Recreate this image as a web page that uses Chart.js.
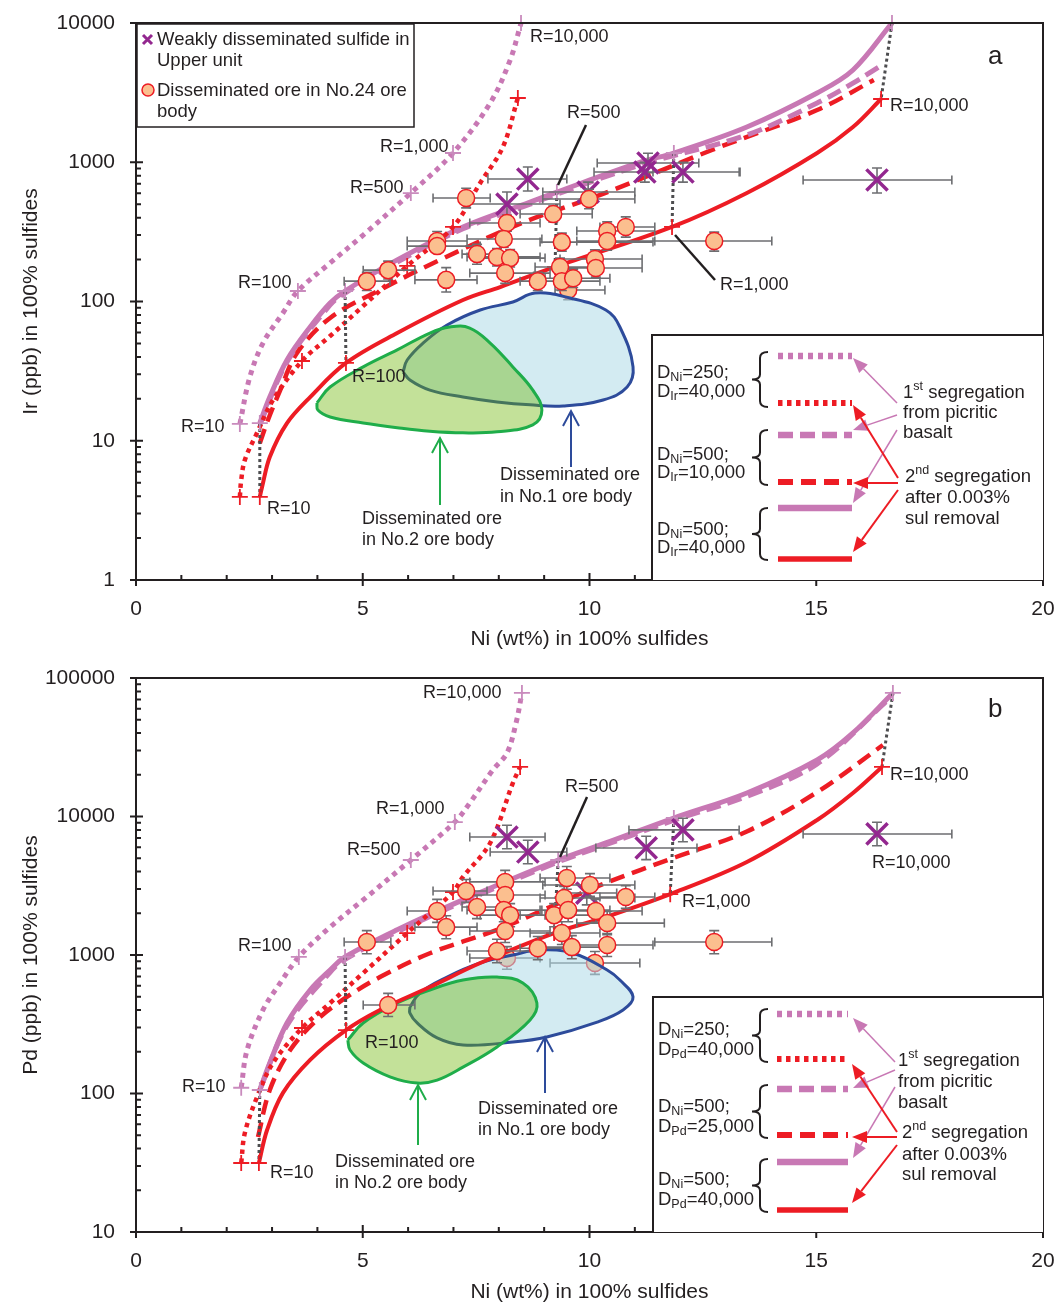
<!DOCTYPE html>
<html>
<head>
<meta charset="utf-8">
<script src="https://cdn.jsdelivr.net/npm/chart.js@4.4.1/dist/chart.umd.min.js"></script>
<style>
html, body { margin: 0; padding: 0; background: #fff; }
#wrap { position: relative; width: 1058px; height: 1305px; }
canvas { position: absolute; left: 0; }
#chartA { top: 0; }
#chartB { top: 652px; }
</style>
</head>
<body>
<div id="wrap">
  <canvas id="chartA" width="1058" height="652"></canvas>
  <canvas id="chartB" width="1058" height="653"></canvas>
</div>
<script>
// ---- axes ----
const niTicks = [0, 5, 10, 15, 20];
const irTicks = [1, 10, 100, 1000, 10000];
const pdTicks = [10, 100, 1000, 10000, 100000];

// ---- panel a: Ir vs Ni ----
const irPinkDotNi = [2.29, 2.51, 2.80, 3.24, 3.57, 4.28, 5.01, 6.06, 6.99, 7.81, 8.25, 8.49];
const irPinkDotIr = [13.2, 28.7, 50.3, 82.7, 119, 189, 300, 601, 1165, 2663, 5420, 10000];
const irRedDotNi = [2.29, 2.32, 2.40, 2.67, 3.02, 3.66, 4.28, 5.01, 5.98, 6.99, 7.59, 8.09, 8.42];
const irRedDotIr = [3.95, 5.22, 7.28, 11.4, 19.6, 37.4, 56.5, 92.9, 180, 343, 710, 1288, 2893];
const irPinkDashNi = [2.73, 3.33, 4.28, 4.61, 5.76, 7.21, 8.69, 9.28, 11.14, 13.47, 15.02, 15.81, 16.38];
const irPinkDashIr = [13.0, 36.8, 94.4, 115, 192, 333, 500, 590, 960, 1570, 2663, 3700, 4830];
const irRedDashNi = [2.73, 2.91, 3.18, 3.55, 4.28, 5.38, 6.70, 8.51, 10.34, 12.70, 15.02, 16.27];
const irRedDashIr = [9.6, 14.1, 23.1, 42.7, 76.2, 121, 199, 366, 601, 1225, 2372, 3896];
const irPinkSolidNi = [2.73, 2.95, 3.33, 3.84, 4.28, 4.61, 5.76, 7.21, 8.69, 9.28, 11.14, 11.86, 13.47, 15.02, 15.81, 16.67];
const irPinkSolidIr = [13.4, 20.6, 38, 65.6, 97.5, 119, 199, 343, 518, 611, 1005, 1165, 1791, 3142, 4595, 10000];
const irRedSolidNi = [2.73, 2.78, 2.95, 3.33, 3.84, 4.63, 5.76, 7.21, 8.03, 9.24, 11.82, 13.47, 15.02, 15.81, 16.43];
const irRedSolidIr = [3.95, 4.65, 7.64, 13.4, 20.6, 36.2, 59.4, 102.5, 127, 177, 343, 601, 1165, 1791, 2846];

// R = 10, 100, 500, 1000, 10000 marks
const irPinkDotMarkNi = [2.29, 3.57, 6.06, 6.99, 8.49];
const irPinkDotMarkIr = [13.2, 119, 601, 1165, 10000];
const irRedDotMarkNi = [2.29, 3.66, 5.98, 6.99, 8.42];
const irRedDotMarkIr = [3.95, 37.4, 180, 343, 2893];
const irPinkSolidMarkNi = [2.73, 4.61, 9.28, 11.86, 16.67];
const irPinkSolidMarkIr = [13.4, 119, 611, 1165, 10000];
const irRedSolidMarkNi = [2.73, 4.63, 9.24, 11.82, 16.43];
const irRedSolidMarkIr = [3.95, 36.2, 177, 343, 2846];

const irNo1Ni = [5.89, 5.98, 6.33, 6.86, 7.59, 8.31, 8.80, 9.57, 10.36, 10.67, 10.96, 10.83, 10.30, 9.42, 8.69, 7.96, 7.21, 6.48, 6.04];
const irNo1Ir = [31.2, 38, 50.3, 67.8, 86.9, 99.2, 115, 106, 86.9, 65.6, 33.9, 24.3, 19.6, 17.8, 18.1, 19.0, 20.6, 23.1, 27.3];
const irNo2Ni = [3.99, 4.28, 5.01, 5.76, 6.48, 6.92, 7.36, 7.81, 8.31, 8.75, 8.95, 8.75, 7.96, 7.21, 6.48, 5.76, 5.01, 4.28, 4.01];
const irNo2Ir = [18.7, 24.3, 33.9, 44.9, 59.4, 65.6, 64.5, 50.3, 33.9, 23.1, 16.6, 13.0, 11.6, 11.4, 11.7, 12.4, 13.4, 14.8, 16.6];

const irOreNi = [7.28, 6.64, 6.64, 5.56, 5.09, 6.84, 7.52, 8.18, 8.11, 7.96, 8.25, 8.14, 8.86, 9.20, 9.99, 10.39, 10.80, 10.39, 9.39, 12.75, 10.12, 10.14, 9.35, 9.39, 9.64];
const irOreIr = [554, 272, 250, 168, 140, 143, 219, 366, 281, 209, 205, 160, 140, 425, 545, 321, 343, 272, 267, 272, 202, 174, 177, 140, 147];
const irOreNiLo = [6.55, 5.98, 5.98, 5.01, 4.59, 6.15, 7.19, 7.36, 7.30, 7.30, 7.59, 7.36, 8.47, 8.47, 8.97, 9.72, 10.23, 9.72, 8.91, 11.44, 9.35, 9.35, 8.80, 8.69, 9.02];
const irOreNiHi = [7.81, 7.30, 7.59, 6.15, 5.60, 7.52, 8.25, 8.91, 8.95, 8.91, 9.02, 9.13, 9.70, 10.06, 11.00, 11.44, 11.44, 11.44, 11.40, 14.02, 11.16, 11.16, 10.23, 10.23, 10.45];
const irOreIrLo = [470, 232, 232, 145, 120, 117, 185, 320, 245, 180, 177, 135, 120, 372, 463, 276, 290, 234, 230, 230, 174, 150, 152, 120, 126];
const irOreIrHi = [650, 318, 272, 195, 162, 175, 257, 418, 320, 240, 236, 188, 162, 485, 640, 373, 405, 316, 310, 315, 235, 202, 205, 162, 170];
const irHidNi = [9.53];
const irHidIr = [121];
const irHidNiLo = [9.24];
const irHidNiHi = [10.34];
const irHidIrLo = [103];
const irHidIrHi = [142];

const irWeakNi = [8.18, 8.64, 9.97, 11.29, 11.22, 12.06, 16.34];
const irWeakIr = [501, 758, 611, 988, 851, 851, 746];
const irWeakNiLo = [7.36, 7.76, 8.97, 10.17, 10.10, 11.40, 14.71];
const irWeakNiHi = [9.35, 9.50, 11.00, 12.41, 13.32, 13.30, 17.99];
const irWeakIrLo = [411, 622, 520, 840, 720, 720, 601];
const irWeakIrHi = [611, 925, 720, 1160, 1000, 1000, 910];

// ---- panel b: Pd vs Ni ----
const pdPinkDotNi = [2.32, 2.45, 2.80, 3.18, 3.59, 4.28, 5.01, 6.06, 7.03, 7.36, 7.87, 8.18, 8.38, 8.51];
const pdPinkDotPd = [110, 206, 401, 628, 968, 1590, 2500, 4850, 9120, 12510, 21700, 28700, 47300, 78000];
const pdRedDotNi = [2.32, 2.40, 2.67, 3.02, 3.66, 4.28, 5.01, 5.98, 6.48, 6.99, 7.21, 7.81, 8.31, 8.47];
const pdRedDotPd = [31.5, 51.9, 94.4, 166, 297, 450, 741, 1440, 2010, 2850, 3660, 6440, 17450, 22800];
const pdPinkDashNi = [2.73, 3.33, 4.28, 4.61, 5.76, 7.21, 9.31, 10.36, 11.86, 13.47, 15.02, 16.58];
const pdPinkDashPd = [106, 310, 750, 930, 1470, 2420, 4700, 6250, 9400, 14000, 24000, 69300];
const pdRedDashNi = [2.69, 2.95, 3.40, 3.99, 4.65, 5.38, 6.48, 7.96, 9.13, 10.36, 11.91, 13.47, 15.02, 16.47];
const pdRedDashPd = [48.5, 106, 206, 340, 498, 693, 1030, 1520, 2220, 3310, 5100, 7800, 15000, 32800];
const pdPinkSolidNi = [2.73, 2.95, 3.33, 3.84, 4.28, 4.61, 5.76, 7.21, 9.31, 10.36, 11.86, 13.47, 15.02, 15.81, 16.69];
const pdPinkSolidPd = [106, 166, 323, 559, 779, 968, 1520, 2500, 4850, 6440, 9750, 14790, 25600, 40100, 78000];
const pdRedSolidNi = [2.71, 2.89, 3.24, 3.84, 4.63, 5.38, 6.48, 7.59, 9.22, 10.36, 11.78, 13.47, 15.02, 15.81, 16.45];
const pdRedSolidPd = [31.5, 54.5, 101, 175, 287, 401, 587, 875, 1440, 1880, 2750, 4690, 9440, 14790, 22800];

const pdPinkDotMarkNi = [2.32, 3.59, 6.06, 7.03, 8.51];
const pdPinkDotMarkPd = [110, 968, 4850, 9120, 78000];
const pdRedDotMarkNi = [2.32, 3.66, 5.98, 6.99, 8.47];
const pdRedDotMarkPd = [31.5, 297, 1440, 2850, 22800];
const pdPinkSolidMarkNi = [2.73, 4.61, 9.31, 11.86, 16.69];
const pdPinkSolidMarkPd = [106, 968, 4850, 9750, 78000];
const pdRedSolidMarkNi = [2.71, 4.63, 9.22, 11.78, 16.45];
const pdRedSolidMarkPd = [31.5, 287, 1440, 2750, 22800];

const pdNo1Ni = [6.04, 6.26, 6.86, 7.59, 8.31, 8.91, 9.64, 10.39, 10.67, 10.96, 10.74, 10.17, 9.06, 8.31, 7.21, 6.64, 6.20, 6.04];
const pdNo1Pd = [421, 532, 693, 875, 1000, 1090, 1030, 779, 660, 498, 401, 328, 256, 235, 224, 252, 323, 381];
const pdNo2Ni = [4.67, 5.01, 5.76, 6.48, 7.21, 7.96, 8.53, 8.84, 8.69, 7.96, 7.21, 6.64, 6.20, 5.60, 5.01, 4.72];
const pdNo2Pd = [243, 323, 450, 559, 660, 693, 628, 450, 340, 217, 155, 125, 119, 132, 166, 206];

const pdOreNi = [5.09, 6.64, 6.84, 7.28, 7.52, 8.14, 8.14, 8.11, 8.25, 8.14, 7.96, 8.86, 9.22, 5.56, 9.50, 10.01, 9.44, 10.80, 9.53, 10.14, 10.39, 9.39, 9.61, 10.39, 12.75];
const pdOrePd = [1240, 2080, 1590, 2900, 2220, 3370, 2710, 2110, 1940, 1490, 1070, 1120, 1940, 436, 3600, 3200, 2580, 2620, 2110, 2080, 1700, 1440, 1140, 1180, 1240];
const pdOreNiLo = [4.59, 5.98, 6.15, 6.55, 7.19, 7.36, 7.36, 7.30, 7.59, 7.36, 7.30, 8.47, 8.47, 5.01, 8.91, 8.97, 8.91, 10.23, 8.91, 9.35, 9.72, 8.69, 9.02, 9.72, 11.44];
const pdOreNiHi = [5.62, 6.81, 7.52, 7.74, 8.18, 9.02, 9.02, 8.95, 9.02, 9.13, 8.91, 9.70, 10.06, 6.15, 10.45, 11.00, 11.00, 11.44, 10.45, 11.16, 11.65, 10.23, 10.45, 11.40, 14.02];
const pdOrePdLo = [1020, 1720, 1310, 2400, 1830, 2790, 2240, 1740, 1600, 1230, 880, 925, 1600, 360, 2980, 2650, 2130, 2170, 1740, 1720, 1400, 1190, 940, 975, 1020];
const pdOrePdHi = [1500, 2520, 1920, 3510, 2690, 4080, 3280, 2550, 2350, 1800, 1300, 1360, 2350, 528, 4360, 3870, 3120, 3170, 2550, 2520, 2060, 1740, 1380, 1430, 1500];
const pdHidNi = [8.18, 10.12];
const pdHidPd = [951, 875];
const pdHidNiLo = [7.36, 9.13];
const pdHidNiHi = [8.91, 11.11];
const pdHidPdLo = [790, 725];
const pdHidPdHi = [1150, 1060];

const pdWeakNi = [9.94, 8.18, 8.64, 11.25, 12.06, 16.34];
const pdWeakPd = [2800, 7110, 5540, 5930, 8000, 7480];
const pdWeakNiLo = [9.40, 7.36, 7.81, 10.14, 10.87, 14.71];
const pdWeakNiHi = [10.60, 9.02, 9.50, 12.37, 13.30, 17.99];
const pdWeakPdLo = [2300, 5850, 4560, 4880, 6580, 6150];
const pdWeakPdHi = [3400, 8640, 6730, 7210, 9720, 9090];

// ---- styles ----
const FONT = '"Liberation Sans", Arial, sans-serif';
const INK = '#231f20';
const PINK = '#c878b4';
const PINK_MARK = '#c98bbd';
const RED = '#ed1c24';
const PURPLE = '#93278f';
const GRAY = '#6d6e71';
const BLUE = '#2d4b9b';
const GREEN = '#1fad4a';
const PEACH = '#fbbf8f';

const LINE = {
    pinkDot: { color: PINK, width: 5, dash: [5, 5] },
    redDot: { color: RED, width: 4.5, dash: [4.5, 4.5] },
    pinkDash: { color: PINK, width: 5, dash: [15, 7] },
    redDash: { color: RED, width: 4.5, dash: [15, 8] },
    pinkSolid: { color: PINK, width: 5, dash: [] },
    redSolid: { color: RED, width: 4, dash: [] },
    tie: { color: '#4d4d4f', width: 3, dash: [3, 3] }
};
const LEGEND_ORDER = ['pinkDot', 'redDot', 'pinkDash', 'redDash', 'pinkSolid', 'redSolid'];

function pts(xs, ys) {
    return xs.map((v, i) => ({ x: v, y: ys[i] }));
}

function curve(xs, ys, st, order, tension) {
    return {
        type: 'line', data: pts(xs, ys), borderColor: st.color, borderWidth: st.width,
        borderDash: st.dash, borderCapStyle: 'butt', pointRadius: 0, fill: false,
        tension: tension === undefined ? 0.35 : tension, order
    };
}

function region(xs, ys, stroke, fillColor, order) {
    const d = pts(xs, ys);
    d.push(d[0]);
    return {
        type: 'line', data: d, borderColor: stroke, borderWidth: 3, backgroundColor: fillColor,
        fill: 'shape', pointRadius: 0, tension: 0.4, order
    };
}

function ties(topX, topY, botX, botY) {
    return topX.map((_, i) => curve([topX[i], botX[i]], [topY[i], botY[i]], LINE.tie, 7, 0));
}

function marks(xs, ys, color) {
    return {
        type: 'scatter', data: pts(xs, ys), pointStyle: 'cross', pointRadius: 8,
        borderColor: color, pointBorderColor: color, pointBorderWidth: 1.8, order: 6, clip: false
    };
}

function ore(xs, ys, err, order) {
    return {
        type: 'scatter', data: pts(xs, ys), pointStyle: 'circle', pointRadius: 8.5,
        pointBackgroundColor: PEACH, pointBorderColor: RED, pointBorderWidth: 1.5,
        order, errorBars: err
    };
}

function weak(xs, ys, err) {
    return {
        type: 'scatter', data: pts(xs, ys), pointStyle: 'crossRot', pointRadius: 15,
        pointBorderColor: PURPLE, borderColor: PURPLE, pointBorderWidth: 3.5, order: 3, errorBars: err
    };
}

function panelDatasets(p) {
    return [
        ore(p.hid[0], p.hid[1], p.hidErr, 12),
        region(p.no1[0], p.no1[1], BLUE, 'rgba(175, 218, 232, 0.55)', 11),
        region(p.no2[0], p.no2[1], GREEN, 'rgba(105, 180, 0, 0.40)', 10),
        curve(p.pinkDot[0], p.pinkDot[1], LINE.pinkDot, 8),
        curve(p.redDot[0], p.redDot[1], LINE.redDot, 8),
        curve(p.pinkDash[0], p.pinkDash[1], LINE.pinkDash, 8),
        curve(p.redDash[0], p.redDash[1], LINE.redDash, 8),
        curve(p.pinkSolid[0], p.pinkSolid[1], LINE.pinkSolid, 8),
        curve(p.redSolid[0], p.redSolid[1], LINE.redSolid, 8),
        ...ties(p.pinkSolidMark[0], p.pinkSolidMark[1], p.redSolidMark[0], p.redSolidMark[1]),
        marks(p.pinkDotMark[0], p.pinkDotMark[1], PINK_MARK),
        marks(p.pinkSolidMark[0], p.pinkSolidMark[1], PINK_MARK),
        marks(p.redDotMark[0], p.redDotMark[1], RED),
        marks(p.redSolidMark[0], p.redSolidMark[1], RED),
        weak(p.weak[0], p.weak[1], p.weakErr),
        ore(p.ore[0], p.ore[1], p.oreErr, 2)
    ];
}

// ---- plugins ----
const errorBars = {
    id: 'errorBars',
    beforeDatasetDraw(chart, args) {
        const ds = chart.data.datasets[args.index];
        const e = ds.errorBars;
        if (!e) return;
        const { ctx, scales: { x, y } } = chart;
        ctx.save();
        ctx.strokeStyle = GRAY;
        ctx.lineWidth = 1.6;
        ctx.beginPath();
        ds.data.forEach((p, i) => {
            const px = x.getPixelForValue(p.x), py = y.getPixelForValue(p.y);
            const x0 = x.getPixelForValue(e.xLo[i]), x1 = x.getPixelForValue(e.xHi[i]);
            const y0 = y.getPixelForValue(e.yLo[i]), y1 = y.getPixelForValue(e.yHi[i]);
            ctx.moveTo(x0, py); ctx.lineTo(x1, py);
            ctx.moveTo(x0, py - 4.5); ctx.lineTo(x0, py + 4.5);
            ctx.moveTo(x1, py - 4.5); ctx.lineTo(x1, py + 4.5);
            ctx.moveTo(px, y0); ctx.lineTo(px, y1);
            ctx.moveTo(px - 5, y0); ctx.lineTo(px + 5, y0);
            ctx.moveTo(px - 5, y1); ctx.lineTo(px + 5, y1);
        });
        ctx.stroke();
        ctx.restore();
    }
};

const axesBox = {
    id: 'axesBox',
    afterDatasetsDraw(chart) {
        const { ctx, chartArea: a, scales: { x, y } } = chart;
        ctx.save();
        ctx.strokeStyle = INK;
        ctx.lineWidth = 2;
        ctx.strokeRect(a.left, a.top, a.right - a.left, a.bottom - a.top);
        ctx.beginPath();
        for (let v = niTicks[0]; v <= niTicks[niTicks.length - 1]; v++) {
            const px = x.getPixelForValue(v);
            const major = niTicks.includes(v);
            ctx.moveTo(px, a.bottom + (major ? 6 : 0));
            ctx.lineTo(px, a.bottom - (major ? 7 : 5));
        }
        const dec = y.ticks.map(t => t.value);
        dec.forEach((d, i) => {
            const py = y.getPixelForValue(d);
            ctx.moveTo(a.left - 6, py); ctx.lineTo(a.left + 7, py);
            if (i < dec.length - 1) {
                for (let m = 2; m <= 9; m++) {
                    const q = y.getPixelForValue(d * m);
                    ctx.moveTo(a.left, q); ctx.lineTo(a.left + 5, q);
                }
            }
        });
        ctx.stroke();
        ctx.restore();
    }
};

function txt(ctx, s, x, y, size, color, align) {
    ctx.font = size + 'px ' + FONT;
    ctx.fillStyle = color || INK;
    ctx.textAlign = align || 'left';
    ctx.textBaseline = 'middle';
    ctx.fillText(s, x, y);
    return ctx.measureText(s).width;
}

function richText(ctx, x, y, parts) {
    let cx = x;
    parts.forEach(([s, k]) => {
        const size = k === 'n' ? 18.5 : 12.5;
        const yy = k === 'sub' ? y + 5 : (k === 'sup' ? y - 6 : y);
        cx += txt(ctx, s, cx, yy, size);
    });
}

function arrow(ctx, x1, y1, x2, y2, color, w) {
    const ang = Math.atan2(y2 - y1, x2 - x1), L = 15, H = 6;
    const bx = x2 - L * Math.cos(ang), by = y2 - L * Math.sin(ang);
    ctx.strokeStyle = color; ctx.fillStyle = color; ctx.lineWidth = w;
    ctx.beginPath(); ctx.moveTo(x1, y1); ctx.lineTo(bx, by); ctx.stroke();
    ctx.beginPath();
    ctx.moveTo(x2, y2);
    ctx.lineTo(bx + H * Math.sin(ang), by - H * Math.cos(ang));
    ctx.lineTo(bx - H * Math.sin(ang), by + H * Math.cos(ang));
    ctx.closePath(); ctx.fill();
}

function upArrow(ctx, x, yBase, yTip, color) {
    ctx.strokeStyle = color; ctx.lineWidth = 2;
    ctx.beginPath();
    ctx.moveTo(x, yBase); ctx.lineTo(x, yTip);
    ctx.moveTo(x - 8, yTip + 15); ctx.lineTo(x, yTip); ctx.lineTo(x + 8, yTip + 15);
    ctx.stroke();
}

function brace(ctx, x, top, bot) {
    const mid = (top + bot) / 2;
    ctx.strokeStyle = INK; ctx.lineWidth = 2;
    ctx.beginPath();
    ctx.moveTo(x + 10, top);
    ctx.quadraticCurveTo(x + 2, top, x + 2, top + 6);
    ctx.lineTo(x + 2, mid - 5);
    ctx.quadraticCurveTo(x + 2, mid, x - 6, mid);
    ctx.quadraticCurveTo(x + 2, mid, x + 2, mid + 5);
    ctx.lineTo(x + 2, bot - 6);
    ctx.quadraticCurveTo(x + 2, bot, x + 10, bot);
    ctx.stroke();
}

const notes = {
    id: 'notes',
    afterDraw(chart, args, o) {
        const ctx = chart.ctx;
        const a = chart.chartArea;
        ctx.save();
        ctx.translate(0, -o.top);

        txt(ctx, o.letter[0], o.letter[1], o.letter[2], 26);
        o.rLabels.forEach(([s, x, y]) => txt(ctx, s, x, y, 18));
        o.oreLabels.forEach(([s, x, y]) => txt(ctx, s, x, y, 18));
        ctx.strokeStyle = INK; ctx.lineWidth = 2.5;
        o.leaders.forEach(([x1, y1, x2, y2]) => {
            ctx.beginPath(); ctx.moveTo(x1, y1); ctx.lineTo(x2, y2); ctx.stroke();
        });
        o.upArrows.forEach(([x, yb, yt, c]) => upArrow(ctx, x, yb, yt, c));

        if (o.legend) {
            const [l, t, r, b] = o.legend;
            ctx.fillStyle = '#fff'; ctx.fillRect(l, t, r - l, b - t);
            ctx.strokeStyle = INK; ctx.lineWidth = 1.5; ctx.strokeRect(l, t, r - l, b - t);
            ctx.strokeStyle = PURPLE; ctx.lineWidth = 3;
            ctx.beginPath();
            ctx.moveTo(l + 6, t + 11); ctx.lineTo(l + 15, t + 20);
            ctx.moveTo(l + 15, t + 11); ctx.lineTo(l + 6, t + 20);
            ctx.stroke();
            txt(ctx, 'Weakly disseminated sulfide in', l + 20, t + 16, 18.5);
            txt(ctx, 'Upper unit', l + 20, t + 37, 18.5);
            ctx.beginPath(); ctx.arc(l + 11, t + 66, 6, 0, Math.PI * 2);
            ctx.fillStyle = PEACH; ctx.fill();
            ctx.strokeStyle = RED; ctx.lineWidth = 1.5; ctx.stroke();
            txt(ctx, 'Disseminated ore in No.24 ore', l + 20, t + 67, 18.5);
            txt(ctx, 'body', l + 20, t + 88, 18.5);
        }

        const ins = o.inset;
        const bx = ins.box[0], by = ins.box[1];
        const bottom = a.bottom + o.top, right = a.right;
        ctx.fillStyle = '#fff';
        ctx.fillRect(bx, by, right - bx, bottom - by);
        ctx.strokeStyle = INK; ctx.lineWidth = 2;
        ctx.beginPath(); ctx.moveTo(bx, bottom); ctx.lineTo(bx, by); ctx.lineTo(right, by); ctx.stroke();
        ins.rows.forEach(([s1, v1, s2, v2, y1, y2]) => {
            richText(ctx, bx + 5, y1, [['D', 'n'], [s1, 'sub'], [v1, 'n']]);
            richText(ctx, bx + 5, y2, [['D', 'n'], [s2, 'sub'], [v2, 'n']]);
        });
        ins.braces.forEach(([t, b]) => brace(ctx, 758, t, b));
        LEGEND_ORDER.forEach((k, i) => {
            const st = LINE[k];
            ctx.strokeStyle = st.color; ctx.lineWidth = st.width + 1.5;
            ctx.setLineDash(st.dash); ctx.lineCap = 'butt';
            ctx.beginPath(); ctx.moveTo(ins.x1, ins.ys[i]); ctx.lineTo(ins.x2, ins.ys[i]); ctx.stroke();
        });
        ctx.setLineDash([]);
        const [fx, fy] = ins.first;
        richText(ctx, fx, fy[0], [['1', 'n'], ['st', 'sup'], [' segregation', 'n']]);
        txt(ctx, 'from picritic', fx, fy[1], 18.5);
        txt(ctx, 'basalt', fx, fy[2], 18.5);
        const [sx, sy] = ins.second;
        richText(ctx, sx, sy[0], [['2', 'n'], ['nd', 'sup'], [' segregation', 'n']]);
        txt(ctx, 'after 0.003%', sx, sy[1], 18.5);
        txt(ctx, 'sul removal', sx, sy[2], 18.5);
        ins.pinkArrows.forEach(([x1, y1, x2, y2]) => arrow(ctx, x1, y1, x2, y2, PINK, 1.5));
        ins.redArrows.forEach(([x1, y1, x2, y2]) => arrow(ctx, x1, y1, x2, y2, RED, 2));
        ctx.restore();
    }
};

function createChart(elementID, datasets, yCfg, layout, noteCfg) {
    const tickFont = { family: FONT, size: 21 };
    return new Chart(document.getElementById(elementID), {
        type: 'scatter',
        data: { datasets },
        options: {
            responsive: false,
            animation: false,
            devicePixelRatio: 1,
            layout: { autoPadding: false, padding: { top: layout.top, right: 15, left: 0, bottom: 0 } },
            plugins: { legend: { display: false }, tooltip: { enabled: false }, notes: noteCfg },
            scales: {
                x: {
                    type: 'linear', min: niTicks[0], max: niTicks[niTicks.length - 1],
                    afterBuildTicks: s => { s.ticks = niTicks.map(v => ({ value: v })); },
                    afterFit: s => { s.height = layout.xHeight; s.paddingLeft = 0; s.paddingRight = 0; },
                    grid: { display: false }, border: { display: false },
                    ticks: { font: tickFont, color: INK, padding: 9, maxRotation: 0 },
                    title: { display: true, text: 'Ni (wt%) in 100% sulfides', font: tickFont, color: INK, padding: 0 }
                },
                y: {
                    type: 'logarithmic', min: yCfg.ticks[0], max: yCfg.ticks[yCfg.ticks.length - 1],
                    afterBuildTicks: s => { s.ticks = yCfg.ticks.map(v => ({ value: v })); },
                    afterFit: s => { s.width = 136; s.paddingTop = 0; s.paddingBottom = 0; },
                    grid: { display: false }, border: { display: false },
                    ticks: { font: tickFont, color: INK, padding: 13, callback: v => String(v) },
                    title: { display: true, text: yCfg.title, font: tickFont, color: INK, padding: { top: 19, bottom: 0 } }
                }
            }
        },
        plugins: [errorBars, axesBox, notes]
    });
}

const panelA = {
    pinkDot: [irPinkDotNi, irPinkDotIr], redDot: [irRedDotNi, irRedDotIr],
    pinkDash: [irPinkDashNi, irPinkDashIr], redDash: [irRedDashNi, irRedDashIr],
    pinkSolid: [irPinkSolidNi, irPinkSolidIr], redSolid: [irRedSolidNi, irRedSolidIr],
    pinkDotMark: [irPinkDotMarkNi, irPinkDotMarkIr], redDotMark: [irRedDotMarkNi, irRedDotMarkIr],
    pinkSolidMark: [irPinkSolidMarkNi, irPinkSolidMarkIr], redSolidMark: [irRedSolidMarkNi, irRedSolidMarkIr],
    no1: [irNo1Ni, irNo1Ir], no2: [irNo2Ni, irNo2Ir],
    ore: [irOreNi, irOreIr], oreErr: { xLo: irOreNiLo, xHi: irOreNiHi, yLo: irOreIrLo, yHi: irOreIrHi },
    hid: [irHidNi, irHidIr], hidErr: { xLo: irHidNiLo, xHi: irHidNiHi, yLo: irHidIrLo, yHi: irHidIrHi },
    weak: [irWeakNi, irWeakIr], weakErr: { xLo: irWeakNiLo, xHi: irWeakNiHi, yLo: irWeakIrLo, yHi: irWeakIrHi }
};

const panelB = {
    pinkDot: [pdPinkDotNi, pdPinkDotPd], redDot: [pdRedDotNi, pdRedDotPd],
    pinkDash: [pdPinkDashNi, pdPinkDashPd], redDash: [pdRedDashNi, pdRedDashPd],
    pinkSolid: [pdPinkSolidNi, pdPinkSolidPd], redSolid: [pdRedSolidNi, pdRedSolidPd],
    pinkDotMark: [pdPinkDotMarkNi, pdPinkDotMarkPd], redDotMark: [pdRedDotMarkNi, pdRedDotMarkPd],
    pinkSolidMark: [pdPinkSolidMarkNi, pdPinkSolidMarkPd], redSolidMark: [pdRedSolidMarkNi, pdRedSolidMarkPd],
    no1: [pdNo1Ni, pdNo1Pd], no2: [pdNo2Ni, pdNo2Pd],
    ore: [pdOreNi, pdOrePd], oreErr: { xLo: pdOreNiLo, xHi: pdOreNiHi, yLo: pdOrePdLo, yHi: pdOrePdHi },
    hid: [pdHidNi, pdHidPd], hidErr: { xLo: pdHidNiLo, xHi: pdHidNiHi, yLo: pdHidPdLo, yHi: pdHidPdHi },
    weak: [pdWeakNi, pdWeakPd], weakErr: { xLo: pdWeakNiLo, xHi: pdWeakNiHi, yLo: pdWeakPdLo, yHi: pdWeakPdHi }
};

const notesA = {
    top: 0,
    letter: ['a', 988, 57],
    rLabels: [['R=10,000', 530, 37], ['R=1,000', 380, 147], ['R=500', 350, 188], ['R=100', 238, 283],
        ['R=10', 181, 427], ['R=10', 267, 509], ['R=100', 352, 377], ['R=500', 567, 113],
        ['R=1,000', 720, 285], ['R=10,000', 890, 106]],
    leaders: [[586, 125, 558, 185], [715, 280, 675, 235]],
    oreLabels: [['Disseminated ore', 500, 475], ['in No.1 ore body', 500, 497],
        ['Disseminated ore', 362, 519], ['in No.2 ore body', 362, 540]],
    upArrows: [[440, 505, 438, GREEN], [571, 467, 411, BLUE]],
    legend: [137, 24, 414, 127],
    inset: {
        box: [652, 335],
        rows: [['Ni', '=250;', 'Ir', '=40,000', 373, 392], ['Ni', '=500;', 'Ir', '=10,000', 455, 473],
            ['Ni', '=500;', 'Ir', '=40,000', 530, 548]],
        braces: [[352, 407], [430, 485], [508, 560]],
        x1: 778, x2: 852, ys: [356, 403, 435, 482, 508, 559],
        first: [903, [393, 413, 433]], second: [905, [477, 498, 519]],
        pinkArrows: [[897, 403, 853, 358], [897, 415, 853, 430], [897, 430, 853, 503]],
        redArrows: [[898, 478, 853, 405], [898, 483, 853, 483], [898, 490, 853, 552]]
    }
};

const notesB = {
    top: 652,
    letter: ['b', 988, 710],
    rLabels: [['R=10,000', 423, 693], ['R=1,000', 376, 809], ['R=500', 347, 850], ['R=100', 238, 946],
        ['R=10', 182, 1087], ['R=10', 270, 1173], ['R=100', 365, 1043], ['R=500', 565, 787],
        ['R=1,000', 682, 902], ['R=10,000', 890, 775], ['R=10,000', 872, 863]],
    leaders: [[587, 797, 560, 857]],
    oreLabels: [['Disseminated ore', 478, 1109], ['in No.1 ore body', 478, 1130],
        ['Disseminated ore', 335, 1162], ['in No.2 ore body', 335, 1183]],
    upArrows: [[545, 1093, 1037, BLUE], [418, 1145, 1085, GREEN]],
    legend: null,
    inset: {
        box: [653, 997],
        rows: [['Ni', '=250;', 'Pd', '=40,000', 1030, 1050], ['Ni', '=500;', 'Pd', '=25,000', 1107, 1127],
            ['Ni', '=500;', 'Pd', '=40,000', 1180, 1200]],
        braces: [[1009, 1062], [1085, 1138], [1159, 1212]],
        x1: 777, x2: 848, ys: [1014, 1059, 1089, 1135, 1162, 1210],
        first: [898, [1061, 1082, 1103]], second: [902, [1133, 1155, 1175]],
        pinkArrows: [[895, 1062, 853, 1018], [895, 1070, 853, 1088], [895, 1087, 853, 1158]],
        redArrows: [[897, 1132, 852, 1064], [897, 1137, 852, 1137], [897, 1145, 852, 1203]]
    }
};

const irChart = createChart('chartA', panelDatasets(panelA),
    { ticks: irTicks, title: 'Ir (ppb) in 100% sulfides' }, { top: 23, xHeight: 72 }, notesA);
const pdChart = createChart('chartB', panelDatasets(panelB),
    { ticks: pdTicks, title: 'Pd (ppb) in 100% sulfides' }, { top: 26, xHeight: 73 }, notesB);
</script>
</body>
</html>
